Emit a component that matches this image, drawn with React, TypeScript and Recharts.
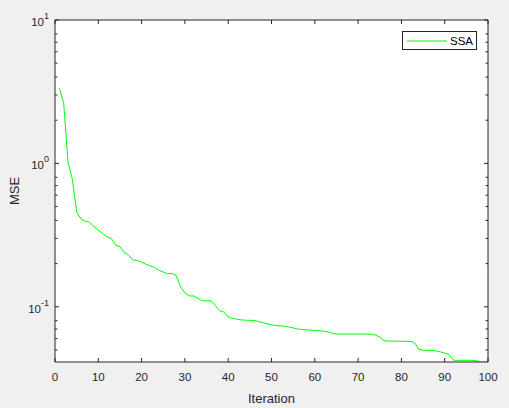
import React from "react";
import { LineChart, Line, XAxis, YAxis, CartesianGrid, Legend } from "recharts";

const iterations: number[] = Array.from({ length: 100 }, (_, i) => i + 1);
const mseValues: number[] = [
  3.34, 2.65, 1.02, 0.78, 0.46, 0.41, 0.395, 0.388, 0.362, 0.342,
  0.325, 0.307, 0.3, 0.27, 0.262, 0.24, 0.228, 0.212, 0.21, 0.205,
  0.198, 0.193, 0.188, 0.18, 0.175, 0.17, 0.171, 0.165, 0.138, 0.125,
  0.119, 0.119, 0.115, 0.11, 0.11, 0.11, 0.102, 0.094, 0.092, 0.085,
  0.083, 0.082, 0.081, 0.0806, 0.0805, 0.08, 0.079, 0.0775, 0.076, 0.0748,
  0.074, 0.0735, 0.0732, 0.0725, 0.0712, 0.07, 0.0695, 0.069, 0.0688, 0.0685,
  0.0682, 0.0676, 0.0668, 0.0655, 0.0645, 0.0645, 0.0645, 0.0645, 0.0645, 0.0645,
  0.0645, 0.0645, 0.0643, 0.0635, 0.0615, 0.058, 0.0577, 0.0576, 0.0575, 0.0575,
  0.0574, 0.0572, 0.0565, 0.0506, 0.0498, 0.0496, 0.0495, 0.0493, 0.0485, 0.0475,
  0.0465, 0.0424, 0.0423, 0.0423, 0.0423, 0.0423, 0.0423, 0.0412, 0.0412, 0.0412,
];
const xTicks: number[] = [0, 10, 20, 30, 40, 50, 60, 70, 80, 90, 100];
const yMajorTicks: number[] = [0.1, 1, 10];
const yMajorExponents: string[] = ["-1", "0", "1"];
const yMinorTicks: number[] = [
  0.05, 0.06, 0.07, 0.08, 0.2, 0.3, 0.4, 0.5, 0.6, 0.7, 0.8, 2, 3, 4, 5, 6, 7, 8,
];
const yDomain: [number, number] = [0.0412, 10];
const xDomain: [number, number] = [0, 100];

const data = iterations.map((it, i) => ({ iter: it, mse: mseValues[i] }));
const yTicks = [...yMajorTicks, ...yMinorTicks].sort((a, b) => a - b);

const AX = "#262626";
const FONT = "'Liberation Sans', Arial, Helvetica, sans-serif";

const isMajor = (v: number) => yMajorTicks.some((m) => Math.abs(m - v) < 1e-9);

const BottomTick = (props: any) => {
  const { x, y, payload } = props;
  return (
    <g>
      <line x1={x} y1={y} x2={x} y2={y - 4} stroke={AX} strokeWidth={1} />
      <text x={x} y={y + 19} textAnchor="middle" fontSize={11.5} fill={AX} fontFamily={FONT}>
        {payload.value}
      </text>
    </g>
  );
};

const TopTick = (props: any) => {
  const { x, y } = props;
  return <line x1={x} y1={y} x2={x} y2={y + 4} stroke={AX} strokeWidth={1} />;
};

const LeftTick = (props: any) => {
  const { x, y, payload } = props;
  const major = isMajor(payload.value);
  const idx = yMajorTicks.findIndex((m) => Math.abs(m - payload.value) < 1e-9);
  return (
    <g>
      <line x1={x} y1={y} x2={x + (major ? 4 : 2.5)} y2={y} stroke={AX} strokeWidth={1} />
      {major && (
        <text x={x - 6} y={y + 6} textAnchor="end" fontSize={11.5} fill={AX} fontFamily={FONT}>
          10
          <tspan dy={-7} fontSize={9}>
            {yMajorExponents[idx]}
          </tspan>
        </text>
      )}
    </g>
  );
};

const RightTick = (props: any) => {
  const { x, y, payload } = props;
  const major = isMajor(payload.value);
  return <line x1={x} y1={y} x2={x - (major ? 4 : 2.5)} y2={y} stroke={AX} strokeWidth={1} />;
};

const LegendBox = () => (
  <div
    style={{
      width: 73,
      height: 17,
      border: `1px solid ${AX}`,
      background: "#fff",
      display: "flex",
      alignItems: "center",
      fontFamily: FONT,
      fontSize: 11.5,
      color: "#000",
      boxSizing: "content-box",
    }}
  >
    <svg width={47} height={17} style={{ display: "block" }}>
      <line x1={4} y1={9} x2={44} y2={9} stroke="#00ff00" strokeWidth={1} />
    </svg>
    <span>SSA</span>
  </div>
);

export default function App() {
  return (
    <div
      style={{
        position: "absolute",
        left: 0,
        top: 0,
        width: 509,
        height: 408,
        background: "#f0f0f0",
      }}
    >
      <LineChart
        width={509}
        height={408}
        data={data}
        margin={{ top: 0, right: 0, bottom: 0, left: 0 }}
      >
        <CartesianGrid horizontal={false} vertical={false} fill="#ffffff" />
        <XAxis
          xAxisId="bottom"
          dataKey="iter"
          type="number"
          domain={xDomain}
          ticks={xTicks}
          height={46}
          tickSize={0}
          tickMargin={0}
          tickLine={false}
          axisLine={{ stroke: AX, strokeWidth: 1 }}
          tick={<BottomTick />}
          interval={0}
          allowDataOverflow
          label={{
            value: "Iteration",
            position: "insideBottom",
            offset: 5,
            fill: AX,
            fontSize: 13,
            fontFamily: FONT,
          }}
        />
        <XAxis
          xAxisId="top"
          orientation="top"
          dataKey="iter"
          type="number"
          domain={xDomain}
          ticks={xTicks}
          height={20}
          tickSize={0}
          tickMargin={0}
          tickLine={false}
          axisLine={{ stroke: AX, strokeWidth: 1 }}
          tick={<TopTick />}
          interval={0}
          allowDataOverflow
        />
        <YAxis
          yAxisId="left"
          scale="log"
          type="number"
          domain={yDomain}
          ticks={yTicks}
          width={55}
          tickSize={0}
          tickMargin={0}
          tickLine={false}
          axisLine={{ stroke: AX, strokeWidth: 1 }}
          tick={<LeftTick />}
          interval={0}
          allowDataOverflow
          label={{
            value: "MSE",
            angle: -90,
            position: "insideLeft",
            offset: 14,
            fill: AX,
            fontSize: 13,
            fontFamily: FONT,
            style: { textAnchor: "middle" },
          }}
        />
        <YAxis
          yAxisId="right"
          orientation="right"
          scale="log"
          type="number"
          domain={yDomain}
          ticks={yTicks}
          width={21}
          tickSize={0}
          tickMargin={0}
          tickLine={false}
          axisLine={{ stroke: AX, strokeWidth: 1 }}
          tick={<RightTick />}
          interval={0}
          allowDataOverflow
        />
        <Legend
          content={<LegendBox />}
          layout="vertical"
          verticalAlign="middle"
          align="center"
          wrapperStyle={{ position: "absolute", top: 31, left: 402, width: 75 }}
        />
        <Line
          xAxisId="bottom"
          yAxisId="left"
          type="linear"
          dataKey="mse"
          name="SSA"
          stroke="#00ff00"
          strokeWidth={1}
          dot={false}
          activeDot={false}
          isAnimationActive={false}
        />
      </LineChart>
    </div>
  );
}
